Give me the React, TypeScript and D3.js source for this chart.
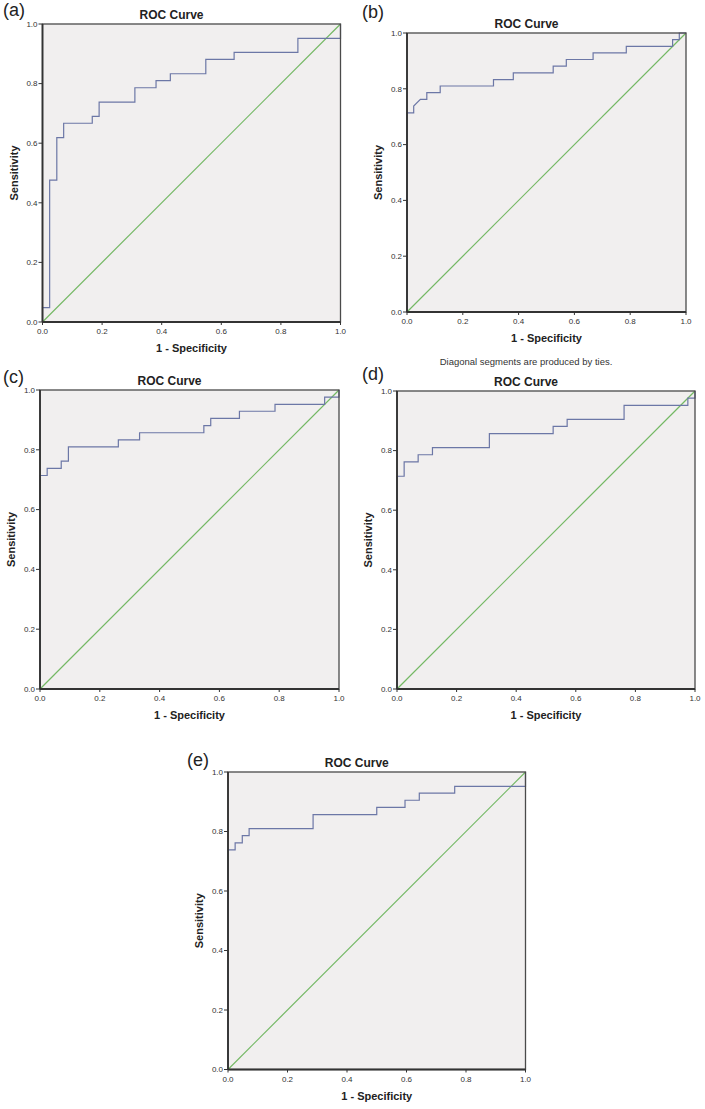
import React from "react";
import * as d3 from "d3";

// ---- Data (ROC vertices: 1 - Specificity, Sensitivity) ----
const fprA = [0, 0, 0.024, 0.024, 0.048, 0.048, 0.071, 0.071, 0.167, 0.167, 0.19, 0.19, 0.31, 0.31, 0.381, 0.381, 0.429, 0.429, 0.548, 0.548, 0.643, 0.643, 0.857, 0.857, 1, 1];
const tprA = [0, 0.048, 0.048, 0.476, 0.476, 0.619, 0.619, 0.667, 0.667, 0.69, 0.69, 0.738, 0.738, 0.786, 0.786, 0.81, 0.81, 0.833, 0.833, 0.881, 0.881, 0.905, 0.905, 0.952, 0.952, 1];

const fprB = [0, 0, 0.024, 0.024, 0.048, 0.071, 0.071, 0.119, 0.119, 0.31, 0.31, 0.381, 0.381, 0.524, 0.524, 0.571, 0.571, 0.667, 0.667, 0.786, 0.786, 0.952, 0.952, 0.976, 0.976, 1];
const tprB = [0, 0.714, 0.714, 0.738, 0.762, 0.762, 0.786, 0.786, 0.81, 0.81, 0.833, 0.833, 0.857, 0.857, 0.881, 0.881, 0.905, 0.905, 0.929, 0.929, 0.952, 0.952, 0.976, 0.976, 1, 1];

const fprC = [0, 0, 0.024, 0.024, 0.071, 0.071, 0.095, 0.095, 0.262, 0.262, 0.333, 0.333, 0.548, 0.548, 0.571, 0.571, 0.667, 0.667, 0.786, 0.786, 0.952, 0.952, 1, 1];
const tprC = [0, 0.714, 0.714, 0.738, 0.738, 0.762, 0.762, 0.81, 0.81, 0.833, 0.833, 0.857, 0.857, 0.881, 0.881, 0.905, 0.905, 0.929, 0.929, 0.952, 0.952, 0.976, 0.976, 1];

const fprD = [0, 0, 0.024, 0.024, 0.071, 0.071, 0.119, 0.119, 0.31, 0.31, 0.524, 0.524, 0.571, 0.571, 0.762, 0.762, 0.976, 0.976, 1, 1];
const tprD = [0, 0.714, 0.714, 0.762, 0.762, 0.786, 0.786, 0.81, 0.81, 0.857, 0.857, 0.881, 0.881, 0.905, 0.905, 0.952, 0.952, 0.976, 0.976, 1];

const fprE = [0, 0, 0.024, 0.024, 0.048, 0.048, 0.071, 0.071, 0.286, 0.286, 0.5, 0.5, 0.595, 0.595, 0.643, 0.643, 0.762, 0.762, 1, 1];
const tprE = [0, 0.738, 0.738, 0.762, 0.762, 0.786, 0.786, 0.81, 0.81, 0.857, 0.857, 0.881, 0.881, 0.905, 0.905, 0.929, 0.929, 0.952, 0.952, 1];

const refLine = [0, 1];
const tickValues = [0, 0.2, 0.4, 0.6, 0.8, 1.0];
const panelLetters = ["(a)", "(b)", "(c)", "(d)", "(e)"];
const titleText = "ROC Curve";
const xLabelText = "1 - Specificity";
const yLabelText = "Sensitivity";
const footnoteText = "Diagonal segments are produced by ties.";

const FONT = "'Liberation Sans', Arial, Helvetica, sans-serif";

const layouts = [
  { left: 42.5, top: 24, size: 298, lx: 3, ly: 16 },
  { left: 407, top: 33, size: 279, lx: 362, ly: 18 },
  { left: 40, top: 390, size: 299, lx: 3, ly: 383 },
  { left: 397, top: 391, size: 298, lx: 362, ly: 380 },
  { left: 228, top: 772, size: 297.5, lx: 187, ly: 766 },
];

const series = [
  [fprA, tprA],
  [fprB, tprB],
  [fprC, tprC],
  [fprD, tprD],
  [fprE, tprE],
];

function Panel({ idx }: { idx: number }) {
  const L = layouts[idx];
  const [fpr, tpr] = series[idx];
  const x = d3.scaleLinear().domain([0, 1]).range([L.left, L.left + L.size]);
  const y = d3.scaleLinear().domain([0, 1]).range([L.top + L.size, L.top]);
  const pts: [number, number][] = fpr.map((v, i) => [v, tpr[i]]);
  const line = d3
    .line<[number, number]>()
    .x((d) => x(d[0]))
    .y((d) => y(d[1]));
  const fmt = d3.format(".1f");
  const bottom = L.top + L.size;
  const cx = L.left + L.size / 2;
  const cy = L.top + L.size / 2;
  return (
    <g>
      <text x={L.lx} y={L.ly} fontSize={18} fontFamily={FONT} fill="#222">
        {panelLetters[idx]}
      </text>
      <text
        x={cx - 20}
        y={L.top - 5}
        fontSize={12}
        fontWeight="bold"
        fontFamily={FONT}
        textAnchor="middle"
        fill="#222"
      >
        {titleText}
      </text>
      <rect x={L.left} y={L.top} width={L.size} height={L.size} fill="#f1efef" />
      <path
        d={line(refLine.map((v) => [v, v] as [number, number])) || ""}
        fill="none"
        stroke="#74b864"
        strokeWidth={1.2}
      />
      <path d={line(pts) || ""} fill="none" stroke="#6c77a6" strokeWidth={1.2} />
      <rect
        x={L.left}
        y={L.top}
        width={L.size}
        height={L.size}
        fill="none"
        stroke="#4a4a4a"
        strokeWidth={1.3}
      />
      <line x1={L.left} x2={L.left} y1={L.top} y2={bottom} stroke="#333" strokeWidth={1.8} />
      <line x1={L.left} x2={L.left + L.size} y1={bottom} y2={bottom} stroke="#333" strokeWidth={1.8} />
      {tickValues.map((t) => (
        <g key={"x" + t}>
          <line x1={x(t)} x2={x(t)} y1={bottom} y2={bottom + 3} stroke="#333" strokeWidth={1} />
          <text
            x={x(t)}
            y={bottom + 12}
            fontSize={8}
            fontFamily={FONT}
            textAnchor="middle"
            fill="#333"
          >
            {fmt(t)}
          </text>
        </g>
      ))}
      {tickValues.map((t) => (
        <g key={"y" + t}>
          <line x1={L.left - 4} x2={L.left} y1={y(t)} y2={y(t)} stroke="#333" strokeWidth={1} />
          <text
            x={L.left - 5}
            y={y(t) + 2.8}
            fontSize={8}
            fontFamily={FONT}
            textAnchor="end"
            fill="#333"
          >
            {fmt(t)}
          </text>
        </g>
      ))}
      <text
        x={cx}
        y={bottom + 30}
        fontSize={11}
        fontWeight="bold"
        fontFamily={FONT}
        textAnchor="middle"
        fill="#222"
      >
        {xLabelText}
      </text>
      <text
        transform={`translate(${L.left - 25},${cy}) rotate(-90)`}
        fontSize={11}
        fontWeight="bold"
        fontFamily={FONT}
        textAnchor="middle"
        fill="#222"
      >
        {yLabelText}
      </text>
    </g>
  );
}

export default function App() {
  return (
    <svg
      width={705}
      height={1109}
      style={{ position: "absolute", left: 0, top: 0, display: "block", background: "#fff" }}
    >
      <rect x={0} y={0} width={705} height={1109} fill="#ffffff" />
      {layouts.map((_, i) => (
        <Panel key={i} idx={i} />
      ))}
      <text
        x={526}
        y={365}
        fontSize={9.5}
        fontFamily={FONT}
        textAnchor="middle"
        fill="#333"
      >
        {footnoteText}
      </text>
    </svg>
  );
}
